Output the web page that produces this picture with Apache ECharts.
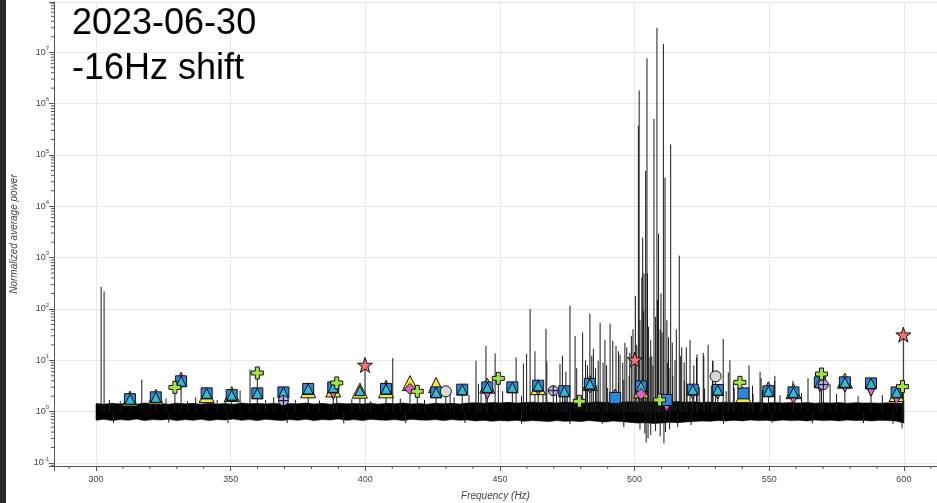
<!DOCTYPE html>
<html>
<head>
<meta charset="utf-8">
<script src="https://cdn.jsdelivr.net/npm/echarts@6/dist/echarts.min.js"></script>
<style>
html,body{margin:0;padding:0;background:#fff;}
#chart{width:937px;height:503px;}
</style>
</head>
<body>
<div id="chart"></div>
<script>
// ---- axis ranges ----
var X_MIN = 284.4, X_MAX = 612.3;
var Y_MIN = 0.0874, Y_MAX = 9.5e7;

// ---- noise floor envelope (Hz, upper, lower) ----
var bandFreq = [300,303,306,309,312,315,318,321,324,327,330,
  333,336,339,342,345,348,351,354,357,360,363,
  366,369,372,375,378,381,384,387,390,393,396,
  399,402,405,408,411,414,417,420,423,426,429,
  432,435,438,441,444,447,450,453,456,459,462,
  465,468,471,474,477,480,483,486,489,492,495,
  498,501,504,507,510,513,516,519,522,525,528,
  531,534,537,540,543,546,549,552,555,558,561,
  564,567,570,573,576,579,582,585,588,591,594,
  597,600];
var bandHigh = [1.44,1.40,1.46,1.41,1.45,1.39,1.47,1.42,1.44,1.40,1.46,
  1.42,1.45,1.40,1.46,1.41,1.44,1.39,1.47,1.42,1.45,1.41,
  1.46,1.40,1.44,1.42,1.47,1.41,1.45,1.40,1.46,1.42,1.44,
  1.41,1.46,1.40,1.45,1.42,1.47,1.41,1.44,1.40,1.46,1.43,
  1.45,1.41,1.47,1.49,1.46,1.51,1.48,1.52,1.47,1.50,1.53,
  1.49,1.52,1.48,1.54,1.50,1.53,1.49,1.55,1.51,1.54,1.52,
  1.56,1.53,1.58,1.55,1.59,1.54,1.57,1.52,1.55,1.51,1.54,
  1.50,1.53,1.49,1.52,1.48,1.51,1.47,1.50,1.48,1.51,1.47,
  1.50,1.46,1.49,1.47,1.50,1.46,1.49,1.47,1.48,1.46,1.49,
  1.47,1.45];
var bandLow = [0.68,0.71,0.67,0.70,0.68,0.72,0.67,0.70,0.69,0.71,0.67,
  0.70,0.68,0.71,0.67,0.70,0.69,0.72,0.68,0.70,0.67,0.71,
  0.69,0.67,0.70,0.68,0.71,0.67,0.70,0.69,0.72,0.68,0.70,
  0.67,0.71,0.69,0.68,0.70,0.67,0.71,0.69,0.68,0.70,0.67,
  0.70,0.68,0.69,0.66,0.68,0.65,0.67,0.66,0.68,0.65,0.67,
  0.66,0.64,0.67,0.65,0.66,0.64,0.67,0.65,0.63,0.66,0.64,
  0.62,0.60,0.61,0.59,0.60,0.62,0.61,0.63,0.64,0.66,0.65,
  0.67,0.66,0.68,0.66,0.69,0.67,0.68,0.66,0.69,0.67,0.68,
  0.66,0.69,0.67,0.68,0.66,0.69,0.67,0.68,0.66,0.68,0.67,
  0.66,0.60];

// ---- spectral lines (Hz, peak power) ----
var linesLowBand = [[301.9,270],[303.0,220],[317.0,4.2],[337.0,1.9],[353.5,2.6],[357.2,6.6],
  [312.6,1.75],[322.2,1.9],[329.3,2.97],[331.6,4.9],[341.1,2.27],[350.4,2.1],[359.9,5.66],
  [369.6,2.37],[378.8,2.77],[388.1,2.97],[389.4,3.62],[398.0,2.56],[399.9,8.1],[407.7,3.4],
  [410.2,11],[416.6,3.6],[419.3,2.49],[426.3,3.3],[429.9,2.49],[431.5,2.4],[436.0,2.68],[438.5,2.1]];
var linesHighBand = [[441.1,9.8],[442.0,3.5],[444.8,19],[445.3,3.2],[448.2,13.6],[449.4,4.45],
  [454.6,2.97],[456.0,11.4],[458.7,8.7],[459.9,13.3],[461.2,100],[463.0,15],[464.2,3.2],[467.1,41],
  [467.4,9.5],[469.8,2.56],[472.3,8.6],[473.2,12.3],[473.9,2.49],[474.5,6],[476.0,116],[477.9,30],
  [478.5,7],[479.5,1.59],[480.7,35],[481.8,10],[482.5,8],[483.4,81],[484.1,12.3],[484.7,16.8],
  [485.5,7],[486.5,9.8],[487.2,54],[488.3,9],[489.0,25],[489.6,8],[490.9,52],[491.9,24],[492.8,2.3],
  [493.1,19],[494.0,15],[494.6,13],[495.6,9],[496.4,22],[497.1,17.8],[498.2,14],[498.8,30],
  [499.4,40],[500.1,10.3],[500.3,180],[500.8,20],[501.4,3.7e5],[501.7,1.8e6],[502.0,60],[502.4,3.1],
  [502.7,410],[503.0,2460],[503.3,90],[503.5,490],[504.1,4.9e4],[504.6,7.6e6],[504.8,490],
  [505.2,45],[505.7,11.4],[506.0,25],[506.4,12],[507.2,5e5],[507.8,70],[508.3,3e7],[508.5,150],
  [508.9,2900],[509.3,1.69],[509.5,40],[509.8,200],[510.2,35],[510.7,1.44e7],[511.3,3.6e4],
  [511.9,1.69],[512.0,60],[512.2,9],[512.6,28],[513.4,1.6e5],[514.0,22],[515.0,10],[515.5,40],
  [516.6,1090],[517.0,12],[517.5,17.8],[518.4,9.1],[519.2,18],[520.6,25],[521.6,2.68],[522.0,8],
  [523.0,11.3],[523.2,13],[525.5,14],[525.7,12],[527.3,20],[529.0,9.8],[529.1,9.8],[530.1,4.87],
  [530.9,2.64],[532.9,26],[534.8,5.8],[535.4,10],[536.7,3.6],[539.1,3.72],[540.4,2.27],[542.5,8],
  [543.8,3.2],[546.6,6],[547.0,4.5],[549.7,3.2],[552.0,4],[552.1,5],[558.8,4],[559.0,2.37],
  [564.4,4.5],[568.8,3.72],[569.4,5.4],[570.1,3.35],[572.6,3.5],[578.1,4.0],[587.8,3.55],
  [597.3,2.37],[599.5,3.07],[599.8,31.5]];
var linesSmall = [[305,1.7],[309,1.6],[320,1.65],[326,1.8],[334,1.6],[345,1.7],[348,1.65],[363,1.7],
  [366,1.9],[374,1.7],[383,1.65],[395,1.75],[402,1.6],[413,1.8],[422,1.7],[433,1.9],
  [443,2.2],[451,2.5],[458,2.0],[466,2.8],[471,2.3],[475,3.0],[482,2.6],[486,3.3],
  [490,2.9],[494,3.6],[496,4.2],[498,5],[503.2,6],[506.8,8],[512.8,7],[514.2,5],[518.5,4],
  [519.5,3.5],[524,3],[526,2.8],[528.5,3.2],[534,2.5],[537,2.9],[544,2.2],[547.5,2.6],[554,2.1],
  [562,2.3],[575,2.2],[583,2.0],[592,2.1]];
var linesDip = [[306.5,0.6],[327,0.61],[349,0.6],[371,0.6],[392,0.59],[415,0.6],[437,0.6],
  [458,0.58],[476,0.57],[488,0.58],[496,0.5],[502,0.45],[503.8,0.38],[504.3,0.25],[505.0,0.3],
  [506.0,0.35],[507.8,0.42],[509.5,0.33],[510.9,0.24],[511.5,0.4],[513,0.45],[516,0.5],[521,0.55],
  [533,0.58],[551,0.6],[566,0.59],[585,0.6],[596,0.58],[599.3,0.47]];

// ---- identified line markers (Hz, power) ----
var yellowTri = [[312.6,1.8],[322.2,1.95],[341.1,2.1],[350.4,2.2],[378.8,2.6],[388.1,2.7],[398.0,2.56],
  [407.7,2.6],[416.6,3.6],[426.3,3.3],[445.3,3.2],[464.2,3.0],[483.4,3.6],[502.4,2.6],[540.4,2.1],
  [559.0,2.5],[578.1,4.0],[597.3,2.2]];
var pinkDown = [[388.1,2.2],[445.3,2.2],[464.2,2.6],[483.4,2.9],[511.9,1.25],[521.6,2.2],[530.9,2.2],
  [559.0,1.77],[568.8,3.1],[578.1,3.0],[587.8,2.49],[597.3,1.71]];
var pinkUp = [[331.6,4.9],[407.7,3.4],[492.8,2.3],[549.7,3.2]];
var blueSquare = [[312.6,1.75],[322.2,1.9],[331.6,3.9],[341.1,2.27],[350.4,2.1],[359.9,2.27],[369.6,2.37],
  [378.8,2.77],[388.1,2.97],[407.7,2.77],[426.3,2.37],[436.0,2.68],[445.3,2.97],[454.6,2.97],[464.2,3.2],
  [473.9,2.49],[483.4,3.46],[492.8,1.85],[502.4,3.1],[511.9,1.69],[521.6,2.68],[530.9,2.64],[540.4,2.27],
  [549.7,2.49],[559.0,2.37],[568.8,3.72],[578.1,3.72],[587.8,3.55],[597.3,2.37]];
var tealTri = [[312.6,1.75],[322.2,1.9],[331.6,3.9],[341.1,2.27],[350.4,2.1],[359.9,2.27],[369.6,2.37],
  [378.8,2.77],[388.1,2.97],[398.0,2.56],[407.7,2.77],[426.3,2.37],[436.0,2.68],[445.3,2.97],[454.6,2.97],
  [464.2,3.2],[473.9,2.49],[483.4,3.46],[502.4,3.1],[521.6,2.68],[530.9,2.64],[549.7,2.49],[559.0,2.37],
  [568.8,3.72],[578.1,3.72],[587.8,3.55],[597.3,2.37]];
var pinkDiamond = [[416.6,2.77],[502.4,2.2]];
var greenPlus = [[329.3,2.97],[359.9,5.66],[389.4,3.62],[419.3,2.49],[449.4,4.45],[479.5,1.59],
  [509.3,1.69],[539.1,3.72],[569.4,5.4],[599.5,3.07]];
var purpleCircleCross = [[369.6,1.64],[469.8,2.56],[570.1,3.35]];
var grayCircle = [[429.9,2.49],[530.1,4.87]];
var redStar = [[399.9,8.1],[500.1,10.3],[599.8,31.5]];

// ---- axis tick values ----
var xMinorTicks = [290,310,320,330,340,360,370,380,390,410,420,430,440,460,470,480,490,510,520,530,540,560,570,580,590,610];
var yMinorMantissa = [2,3,4,5,6,7,8,9];
var yMinorExponents = [-2,-1,0,1,2,3,4,5,6,7];

var yMinorTicks = [];
yMinorExponents.forEach(function (e) {
  yMinorMantissa.forEach(function (m) {
    var v = m * Math.pow(10, e);
    if (v > Y_MIN && v < Y_MAX) yMinorTicks.push([X_MIN, v]);
  });
});

var PLUS = 'path://M4,0H8V4H12V8H8V12H4V8H0V4H4Z';
var STAR = 'path://M50,0L61.8,35.1L98.8,35.1L68.9,56.9L80.2,91.9L50,70.2L19.8,91.9L31.1,56.9L1.2,35.1L38.2,35.1Z';
var CIRCLE_CROSS = 'path://M0,10A10,10 0 1,1 20,10A10,10 0 1,1 0,10Z M10,0V20 M0,10H20';

function renderLine(params, api) {
  var f = api.value(0), v = api.value(1);
  var a = api.coord([f, 1]);
  var b = api.coord([f, v]);
  return {
    type: 'line',
    shape: { x1: a[0], y1: a[1], x2: b[0], y2: b[1] },
    style: { stroke: '#1a1a1a', lineWidth: 1 }
  };
}

function renderBand(params, api) {
  if (params.dataIndexInside !== 0) return null;
  var n = params.dataInsideLength;
  var pts = [];
  for (var i = 0; i < n; i++) pts.push(api.coord([api.value(0, i), api.value(1, i)]));
  for (var j = n - 1; j >= 0; j--) pts.push(api.coord([api.value(0, j), api.value(2, j)]));
  return {
    type: 'polygon',
    shape: { points: pts },
    style: { fill: '#000', stroke: '#000', lineWidth: 0.6 }
  };
}

function markerSeries(name, data, symbol, size, color, extra) {
  var s = {
    name: name, type: 'scatter', data: data, symbol: symbol, symbolSize: size,
    itemStyle: { color: color, borderColor: '#111', borderWidth: 1, opacity: 1 },
    silent: true, animation: false, z: 5
  };
  if (extra) for (var k in extra) s[k] = extra[k];
  return s;
}

var chart = echarts.init(document.getElementById('chart'), null, { renderer: 'canvas' });

var labelColor = '#444';
var fontFam = '"Liberation Sans", Arial, Helvetica, sans-serif';

chart.setOption({
  animation: false,
  backgroundColor: '#fff',
  title: {
    text: '2023-06-30\n-16Hz shift',
    left: 72, top: 2, padding: 0,
    textStyle: { fontSize: 36, lineHeight: 45, fontWeight: 'normal', color: '#000', fontFamily: fontFam }
  },
  graphic: [{
    type: 'rect', left: 0, top: 0, silent: true,
    shape: { width: 6, height: 503 },
    style: { fill: '#2b2b2b' }
  }],
  grid: { left: 54, right: 0, top: 2, bottom: 37, containLabel: false, outerBoundsMode: 'none' },
  xAxis: {
    type: 'value', min: X_MIN, max: X_MAX,
    name: 'Frequency (Hz)', nameLocation: 'middle', nameGap: 25,
    nameTextStyle: { fontStyle: 'italic', fontSize: 10, color: labelColor, fontFamily: fontFam },
    axisLine: { show: true, lineStyle: { color: '#555', width: 1 } },
    axisTick: { show: true, length: 5, lineStyle: { color: '#555' } },
    axisLabel: { color: labelColor, fontSize: 9, margin: 9, fontFamily: fontFam,
      formatter: function (v) { return Math.abs(v / 50 - Math.round(v / 50)) < 1e-6 ? String(Math.round(v)) : ''; } },
    splitLine: { show: true, lineStyle: { color: '#e8e8e8', width: 1 } }
  },
  yAxis: {
    type: 'log', logBase: 10, min: Y_MIN, max: Y_MAX, splitNumber: 10,
    name: 'Normalized average power', nameLocation: 'middle', nameGap: 35,
    nameTextStyle: { fontStyle: 'italic', fontSize: 10, color: labelColor, fontFamily: fontFam },
    axisLine: { show: true, lineStyle: { color: '#555', width: 1 } },
    axisTick: { show: true, length: 5, lineStyle: { color: '#555' } },
    axisLabel: {
      color: labelColor, fontSize: 9, margin: 5, fontFamily: fontFam,
      formatter: function (v) {
        var l = Math.log(v) / Math.LN10, e = Math.round(l);
        if (Math.abs(l - e) > 1e-6) return '';
        return '{b|10}{s|' + e + '}';
      },
      rich: {
        b: { fontSize: 9, color: labelColor, lineHeight: 14, verticalAlign: 'middle' },
        s: { fontSize: 6, color: labelColor, lineHeight: 14, verticalAlign: 'top' }
      }
    },
    splitLine: { show: true, lineStyle: { color: '#e8e8e8', width: 1 } }
  },
  series: [
    { name: 'xMinor', type: 'custom', silent: true, clip: false,
      data: xMinorTicks.map(function (t) { return [t, Y_MIN]; }),
      renderItem: function (params, api) {
        var p = api.coord([api.value(0), Y_MIN]);
        return { type: 'line', shape: { x1: p[0], y1: p[1], x2: p[0], y2: p[1] + 3 },
          style: { stroke: '#555', lineWidth: 1 } };
      } },
    { name: 'yMinor', type: 'custom', silent: true, clip: false,
      data: yMinorTicks,
      renderItem: function (params, api) {
        var p = api.coord([X_MIN, api.value(1)]);
        return { type: 'line', shape: { x1: p[0] - 3, y1: p[1], x2: p[0], y2: p[1] },
          style: { stroke: '#555', lineWidth: 1 } };
      } },
    { name: 'band', type: 'custom', silent: true, clip: true,
      data: bandFreq.map(function (f, i) { return [f, bandHigh[i], bandLow[i]]; }),
      encode: { x: 0, y: [1, 2] },
      renderItem: renderBand },
    { name: 'lines', type: 'custom', silent: true, clip: true,
      data: linesLowBand.concat(linesHighBand, linesSmall, linesDip),
      renderItem: renderLine },
    markerSeries('yellowTri', yellowTri, 'triangle', 15, '#f3e83f'),
    markerSeries('pinkDown', pinkDown, 'triangle', 10, '#e462c6', { symbolRotate: 180 }),
    markerSeries('pinkUp', pinkUp, 'triangle', 8, '#e462c6'),
    markerSeries('blueSquare', blueSquare, 'rect', 11, '#2f86dc'),
    markerSeries('tealTri', tealTri, 'triangle', 10, '#38b8c8'),
    markerSeries('pinkDiamond', pinkDiamond, 'diamond', 11, '#e462c6'),
    markerSeries('greenPlus', greenPlus, PLUS, 12, '#a6e04c'),
    markerSeries('purpleCircleCross', purpleCircleCross, CIRCLE_CROSS, 10, '#b8a6ea'),
    markerSeries('grayCircle', grayCircle, 'circle', 11, '#d9d9d9'),
    markerSeries('redStar', redStar, STAR, 15, '#f07272')
  ]
});
</script>
</body>
</html>
